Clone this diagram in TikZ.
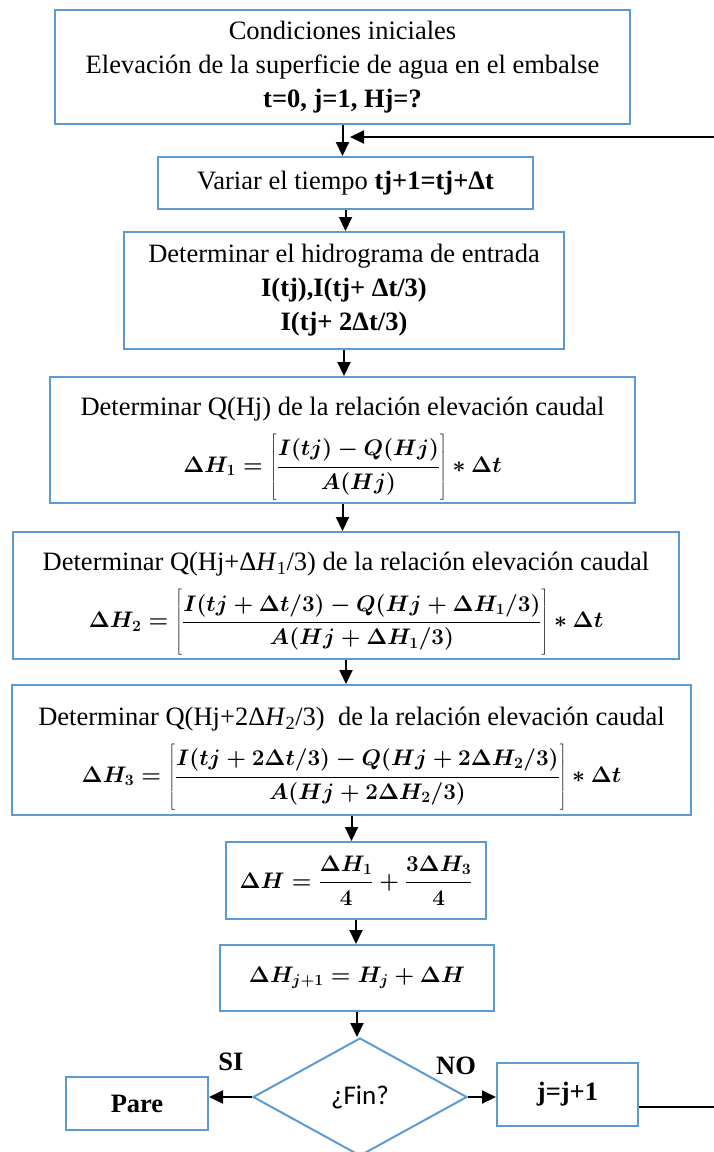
\documentclass[tikz,border=0pt]{standalone}
\usepackage{fix-cm}
\usepackage{fontspec}
\setmainfont{Liberation Serif}
\newfontfamily\calibri{Carlito}
\usepackage{tikz}
\usepackage{xcolor}
\usetikzlibrary{shapes.geometric, arrows.meta, calc}
\definecolor{wordblue}{HTML}{5B9BD5}
\tikzstyle{proc} = [rectangle, draw=wordblue, line width=2pt, align=center,
                    inner sep=0pt, font=\fontsize{26.5}{34}\selectfont]
\tikzstyle{decision} = [diamond, draw=wordblue, line width=2pt, inner sep=0pt,
                        font=\calibri\fontsize{27}{32}\selectfont]
\tikzstyle{arrow} = [-{Triangle[length=14pt,width=13pt]}, line width=2pt]
\tikzstyle{lbl} = [font=\bfseries\fontsize{26.5}{30}\selectfont]

% formulas of the steps
\newcommand{\eqsize}{\fontsize{22.5}{26}\selectfont}
\newcommand{\tallbr}{\rule[-27.5pt]{0pt}{66pt}}
\newcommand{\topgap}{\rule{0pt}{35pt}}
\newcommand{\eqone}{{\eqsize\boldmath$\displaystyle \Delta H_1 = \left[\tallbr\frac{I(tj)-Q(Hj)}{A(Hj)}\right]\ast\Delta t$}}
\newcommand{\eqtwo}{{\eqsize\boldmath$\displaystyle \Delta H_2 = \left[\tallbr\frac{I(tj+\Delta t/3)-Q(Hj+\Delta H_1/3)}{A(Hj+\Delta H_1/3)}\right]\ast\Delta t$}}
\newcommand{\eqthree}{{\eqsize\boldmath$\displaystyle \Delta H_3 = \left[\tallbr\frac{I(tj+2\Delta t/3)-Q(Hj+2\Delta H_2/3)}{A(Hj+2\Delta H_2/3)}\right]\ast\Delta t$}}
\newcommand{\eqsum}{{\eqsize\boldmath$\displaystyle \Delta H = \frac{\Delta H_1}{4}+\frac{3\Delta H_3}{4}$}}
\newcommand{\eqnext}{{\eqsize\boldmath$\Delta H_{j+1} = H_j + \Delta H$}}

\begin{document}
\begin{tikzpicture}[x=1pt, y=-1pt]
    \useasboundingbox (0,0) rectangle (714,1152);

    % process boxes
    \node[proc, minimum width=575pt, minimum height=114pt] (init) at (342.5,67)
        {Condiciones iniciales\\Elevación de la superficie de agua en el embalse\\\textbf{t=0, j=1, Hj=?}};
    \node[proc, minimum width=375pt, minimum height=52pt] (vary) at (345.5,183)
        {Variar el tiempo \textbf{tj+1=tj+Δt}};
    \node[proc, minimum width=440pt, minimum height=117pt] (inflow) at (344,290.5)
        {Determinar el hidrograma de entrada\\\textbf{I(tj),I(tj+ Δt/3)}\\\textbf{I(tj+ 2Δt/3)}};
    \node[proc, minimum width=585pt, minimum height=126pt] (dh1) at (342.5,440)
        {\topgap Determinar Q(Hj) de la relación elevación caudal\\[12pt]\eqone};
    \node[proc, minimum width=666pt, minimum height=127pt] (dh2) at (346,595.5)
        {\topgap Determinar Q(Hj+Δ\textit{H}\textsubscript{1}/3) de la relación elevación caudal\\[12pt]\eqtwo};
    \node[proc, minimum width=679pt, minimum height=130pt] (dh3) at (351.5,750)
        {\topgap Determinar Q(Hj+2Δ\textit{H}\textsubscript{2}/3)~ de la relación elevación caudal\\[12pt]\eqthree};
    \node[proc, minimum width=260pt, minimum height=77pt] (dh) at (356,880.5) {\eqsum};
    \node[proc, minimum width=274pt, minimum height=66pt] (hnext) at (357,978) {\eqnext};

    % decision and exits
    \node[decision, minimum width=214pt, minimum height=118pt] (fin) at (360,1097) {¿Fin?};
    \node[proc, minimum width=142pt, minimum height=53pt] (stop) at (137,1103.5) {\textbf{Pare}};
    \node[proc, minimum width=141pt, minimum height=63pt] (next) at (567.5,1094.5) {\textbf{j=j+1}};
    \node[lbl] (si) at (231,1062) {SI};
    \node[lbl] (no) at (456,1066) {NO};

    \coordinate (join) at (350,137);
    \coordinate (back) at (725,137);

    \draw[arrow] (init.south) -- (init.south |- vary.north);
    \draw[arrow] (vary.south) -- (vary.south |- inflow.north);
    \draw[arrow] (inflow.south) -- (inflow.south |- dh1.north);
    \draw[arrow] (dh1.south) -- (dh1.south |- dh2.north);
    \draw[arrow] (dh2.south) -- (dh2.south |- dh3.north);
    \draw[arrow] (dh3.south) -- (dh3.south |- dh.north);
    \draw[arrow] (dh.south) -- (dh.south |- hnext.north);
    \draw[arrow] (hnext.south) -- (hnext.south |- fin.north);
    \draw[arrow] (fin.west) -- (stop.east |- fin.west);
    \draw[arrow] (fin.east) -- (next.west |- fin.east);
    % loop back to the time step
    \draw[arrow] ([yshift=-12pt]next.east) -| (back) -- (join);
\end{tikzpicture}
\end{document}
